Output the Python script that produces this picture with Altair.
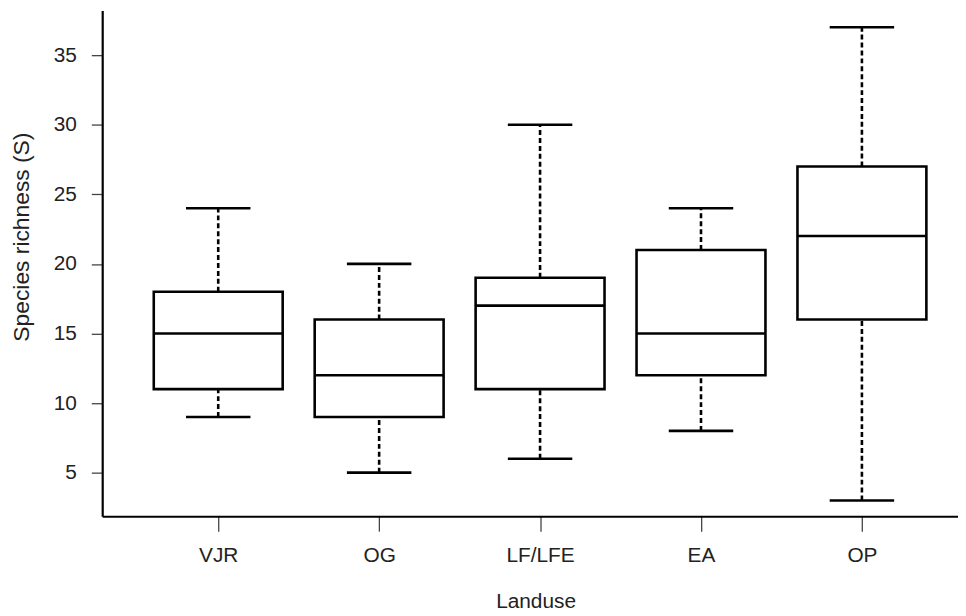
import altair as alt
import pandas as pd

landuse = ["VJR", "OG", "LF/LFE", "EA", "OP"]
lower = [9, 5, 6, 8, 3]
q1 = [11, 9, 11, 12, 16]
median = [15, 12, 17, 15, 22]
q3 = [18, 16, 19, 21, 27]
upper = [24, 20, 30, 24, 37]
y_ticks = [5, 10, 15, 20, 25, 30, 35]

df = pd.DataFrame({
    "Landuse": landuse,
    "lower": lower,
    "q1": q1,
    "median": median,
    "q3": q3,
    "upper": upper,
})

FONT = "Liberation Sans"
W, H = 863, 510

x_enc = alt.X(
    "Landuse:N",
    sort=landuse,
    scale=alt.Scale(type="point", padding=0.659, align=0.547),
    axis=alt.Axis(
        title="Landuse",
        labelAngle=0,
        labelFontSize=21,
        labelFont=FONT,
        labelColor="#222222",
        labelPadding=14,
        tickSize=15,
        tickWidth=1.3,
        tickColor="#444444",
        domainColor="#000000",
        domainWidth=2.2,
        titleFontSize=21,
        titleFont=FONT,
        titleFontWeight="normal",
        titleColor="#222222",
        titleX=437,
        titleY=92,
        titleBaseline="alphabetic",
        grid=False,
    ),
)

y_scale = alt.Scale(domain=[1.865, 38.207], nice=False, zero=False)
y_axis = alt.Axis(
    title="Species richness (S)",
    values=y_ticks,
    labelFontSize=21,
    labelFont=FONT,
    labelColor="#222222",
    labelPadding=15,
    tickSize=11,
    tickWidth=1.3,
    tickColor="#444444",
    domainColor="#000000",
    domainWidth=2.2,
    titleFontSize=23,
    titleFont=FONT,
    titleFontWeight="normal",
    titleColor="#222222",
    titleX=-81,
    titleY=228,
    titleBaseline="middle",
    grid=False,
)

base = alt.Chart(df)

whisk_hi = base.mark_rule(color="black", strokeWidth=2.6, strokeDash=[5, 3], opacity=1).encode(
    x=x_enc, y=alt.Y("q3:Q", scale=y_scale, axis=y_axis), y2="upper:Q"
)
whisk_lo = base.mark_rule(color="black", strokeWidth=2.6, strokeDash=[5, 3], opacity=1).encode(
    x=x_enc, y=alt.Y("lower:Q", scale=y_scale, axis=y_axis), y2="q1:Q"
)
box = base.mark_bar(size=130, fill="white", stroke="black", strokeWidth=2.6, opacity=1).encode(
    x=x_enc, y=alt.Y("q1:Q", scale=y_scale, axis=y_axis), y2="q3:Q"
)
med = base.mark_tick(size=130, thickness=2.6, color="black", opacity=1).encode(
    x=x_enc, y=alt.Y("median:Q", scale=y_scale, axis=y_axis)
)
cap_hi = base.mark_tick(size=65, thickness=2.6, color="black", opacity=1).encode(
    x=x_enc, y=alt.Y("upper:Q", scale=y_scale, axis=y_axis)
)
cap_lo = base.mark_tick(size=65, thickness=2.6, color="black", opacity=1).encode(
    x=x_enc, y=alt.Y("lower:Q", scale=y_scale, axis=y_axis)
)

chart = alt.layer(whisk_hi, whisk_lo, box, med, cap_hi, cap_lo).properties(
    width=W,
    height=H,
    autosize=alt.AutoSizeParams(type="none"),
    padding={"left": 95, "top": 0, "right": 0, "bottom": 98},
    background="white",
).configure_view(stroke=None)

chart.save("out.html", embed_options={"renderer": "svg", "actions": False})
